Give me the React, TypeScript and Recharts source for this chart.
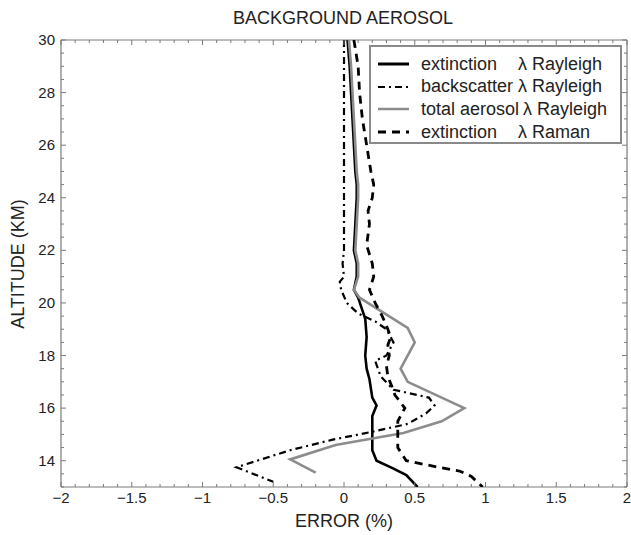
import React from "react";
import { ScatterChart, Scatter, XAxis, YAxis, ReferenceLine } from "recharts";

document.body.style.margin = "0";

// tick labels
const errTickLabels = [-2, -1.5, -1, -0.5, 0, 0.5, 1, 1.5, 2];
const altTickLabels = [14, 16, 18, 20, 22, 24, 26, 28, 30];

// extinction, lambda Rayleigh (black solid)
const extRayAlt = [30, 29, 28, 27, 26, 25, 24.5, 24, 23, 22, 21.5, 21, 20.5, 20.2, 19.4, 18.7, 18.0, 17.5, 17.1, 16.4, 16.1, 15.7, 15.0, 14.4, 14.0, 13.7, 13.45, 13.0];
const extRayErr = [0.025, 0.04, 0.05, 0.06, 0.07, 0.08, 0.09, 0.09, 0.08, 0.07, 0.09, 0.09, 0.07, 0.1, 0.15, 0.16, 0.15, 0.16, 0.18, 0.2, 0.23, 0.2, 0.2, 0.2, 0.23, 0.35, 0.44, 0.52];

// backscatter, lambda Rayleigh (dash-dot)
const backAlt = [30, 28, 26, 24, 22, 21.5, 21, 20.8, 20.5, 20.0, 19.6, 19.3, 19.0, 18.5, 18.0, 17.8, 17.2, 16.7, 16.4, 16.1, 15.8, 15.4, 15.1, 14.8, 14.4, 13.75, 13.2];
const backErr = [0, 0, 0, 0, 0, -0.01, 0, -0.03, -0.02, 0.02, 0.1, 0.22, 0.3, 0.35, 0.3, 0.22, 0.26, 0.35, 0.6, 0.64, 0.58, 0.45, 0.2, -0.08, -0.38, -0.76, -0.5];

// total aerosol, lambda Rayleigh (grey)
const totAlt = [30, 29, 28, 27, 26, 25, 24.5, 24, 23, 22, 21.5, 21, 20.5, 20.2, 19.05, 18.5, 17.5, 17.0, 16.0, 15.5, 15.05, 14.6, 14.05, 13.55];
const totErr = [0.035, 0.05, 0.06, 0.07, 0.08, 0.09, 0.1, 0.1, 0.09, 0.08, 0.1, 0.1, 0.07, 0.11, 0.45, 0.5, 0.4, 0.45, 0.85, 0.69, 0.42, -0.06, -0.38, -0.2];

// extinction, lambda Raman (dashed)
const extRamAlt = [30, 29, 28, 27, 26, 25, 24.5, 24, 23.5, 23, 22.2, 21.5, 21, 20.5, 20, 19.5, 19.0, 18.7, 18.4, 18.0, 17.6, 17.2, 16.8, 16.5, 16.0, 15.5, 15.0, 14.5, 14.0, 13.76, 13.6, 13.4, 13.0];
const extRamErr = [0.07, 0.1, 0.11, 0.13, 0.16, 0.19, 0.21, 0.2, 0.17, 0.18, 0.16, 0.2, 0.21, 0.18, 0.22, 0.27, 0.31, 0.33, 0.31, 0.32, 0.3, 0.31, 0.34, 0.36, 0.43, 0.38, 0.38, 0.38, 0.44, 0.66, 0.82, 0.9, 0.98];

const toPoints = (alt: number[], err: number[]) => alt.map((a, i) => ({ x: err[i], y: a }));

const AXIS = "#7a7a7a";
const FONT = "'Liberation Sans', Arial, Helvetica, sans-serif";
const PLOT = { left: 61, right: 627, top: 40, bottom: 487 };

const minorErr: number[] = [];
for (let i = -20; i <= 20; i++) minorErr.push(i / 10);
const minorAlt: number[] = [];
for (let i = 26; i <= 60; i++) minorAlt.push(i / 2);

const isMajor = (list: number[], v: number) => list.some((t) => Math.abs(t - v) < 1e-6);
const fmt = (v: number) => (v < 0 ? "\u2212" + Math.abs(v) : String(v));

const ErrTick = (props: any) => {
  const { x, y, payload } = props;
  const v = payload.value;
  const major = isMajor(errTickLabels, v);
  const len = major ? 5 : 3;
  return (
    <g>
      <line x1={x} x2={x} y1={y} y2={y - len} stroke={AXIS} strokeWidth={1} />
      <line x1={x} x2={x} y1={PLOT.top} y2={PLOT.top + len} stroke={AXIS} strokeWidth={1} />
      {major && (
        <text x={x} y={y + 16} textAnchor="middle" fontSize={15} fill="#222" fontFamily={FONT}>
          {fmt(v)}
        </text>
      )}
    </g>
  );
};

const AltTick = (props: any) => {
  const { x, y, payload } = props;
  const v = payload.value;
  const major = isMajor(altTickLabels, v);
  const len = major ? 5 : 3;
  return (
    <g>
      <line x1={x} x2={x + len} y1={y} y2={y} stroke={AXIS} strokeWidth={1} />
      <line x1={PLOT.right} x2={PLOT.right - len} y1={y} y2={y} stroke={AXIS} strokeWidth={1} />
      {major && (
        <text x={x - 6} y={y + 5} textAnchor="end" fontSize={15} fill="#222" fontFamily={FONT}>
          {v}
        </text>
      )}
    </g>
  );
};

const legendItems = [
  { name: "extinction", rest: "λ Rayleigh", stroke: "#000", dash: undefined, width: 3, pad: true },
  { name: "backscatter", rest: "λ Rayleigh", stroke: "#000", dash: "7 4 2 4", width: 2.2, pad: true },
  { name: "total aerosol", rest: "λ Rayleigh", stroke: "#8c8c8c", dash: undefined, width: 2.5, pad: false },
  { name: "extinction", rest: "λ Raman", stroke: "#000", dash: "8 6", width: 3, pad: true },
];

export default function App() {
  return (
    <div style={{ position: "relative", width: 631, height: 535, background: "#fff", fontFamily: FONT }}>
      <ScatterChart width={631} height={535} margin={{ top: 40, right: 4, bottom: 0, left: 0 }}>
        <XAxis
          type="number"
          dataKey="x"
          domain={[-2, 2]}
          allowDataOverflow
          ticks={minorErr}
          interval={0}
          height={48}
          tickSize={0}
          tickMargin={0}
          tick={<ErrTick />}
          axisLine={{ stroke: AXIS, strokeWidth: 1.2 }}
          tickLine={false}
        />
        <YAxis
          type="number"
          dataKey="y"
          domain={[13, 30]}
          allowDataOverflow
          ticks={minorAlt}
          interval={0}
          width={61}
          tickSize={0}
          tickMargin={0}
          tick={<AltTick />}
          axisLine={{ stroke: AXIS, strokeWidth: 1.2 }}
          tickLine={false}
        />
        <ReferenceLine y={30} stroke={AXIS} strokeWidth={1.2} />
        <ReferenceLine x={2} stroke={AXIS} strokeWidth={1.2} />
        <Scatter
          name="extinction λ Rayleigh"
          data={toPoints(extRayAlt, extRayErr)}
          fill="#000"
          line={{ stroke: "#000", strokeWidth: 2.6 }}
          shape={() => <g />}
          isAnimationActive={false}
        />
        <Scatter
          name="total aerosol λ Rayleigh"
          data={toPoints(totAlt, totErr)}
          fill="#8c8c8c"
          line={{ stroke: "#8c8c8c", strokeWidth: 2.6 }}
          shape={() => <g />}
          isAnimationActive={false}
        />
        <Scatter
          name="backscatter λ Rayleigh"
          data={toPoints(backAlt, backErr)}
          fill="#000"
          line={{ stroke: "#000", strokeWidth: 2.2, strokeDasharray: "7 4 2 4" }}
          shape={() => <g />}
          isAnimationActive={false}
        />
        <Scatter
          name="extinction λ Raman"
          data={toPoints(extRamAlt, extRamErr)}
          fill="#000"
          line={{ stroke: "#000", strokeWidth: 2.8, strokeDasharray: "8 6" }}
          shape={() => <g />}
          isAnimationActive={false}
        />
      </ScatterChart>

      {/* title and axis names */}
      <div style={{ position: "absolute", left: 0, width: 686, top: 7, textAlign: "center", fontSize: 18, color: "#222", lineHeight: "22px" }}>
        BACKGROUND AEROSOL
      </div>
      <div style={{ position: "absolute", left: 0, width: 688, top: 510, textAlign: "center", fontSize: 18, color: "#222", lineHeight: "22px" }}>
        ERROR (%)
      </div>
      <div
        style={{
          position: "absolute",
          left: 18,
          top: 264,
          transform: "translate(-50%, -50%) rotate(-90deg)",
          whiteSpace: "nowrap",
          fontSize: 18,
          color: "#222",
          lineHeight: "22px",
        }}
      >
        ALTITUDE (KM)
      </div>

      {/* legend */}
      <div
        style={{
          position: "absolute",
          left: 369,
          top: 45,
          width: 249,
          height: 95,
          border: "2px solid #8a8a8a",
          background: "#fff",
        }}
      >
        {legendItems.map((it, i) => (
          <div
            key={i}
            style={{ position: "absolute", left: 7, top: 6 + i * 22.7, height: 22, display: "flex", alignItems: "center", whiteSpace: "nowrap", fontSize: 18, color: "#222" }}
          >
            <svg width={31} height={8} style={{ marginRight: 12 }}>
              <line x1={0} x2={31} y1={4} y2={4} stroke={it.stroke} strokeWidth={it.width} strokeDasharray={it.dash} />
            </svg>
            <span style={{ display: "inline-block", minWidth: it.pad ? 97 : 0, marginRight: it.pad ? 0 : 4 }}>{it.name}</span>
            <span>{it.rest}</span>
          </div>
        ))}
      </div>
    </div>
  );
}
